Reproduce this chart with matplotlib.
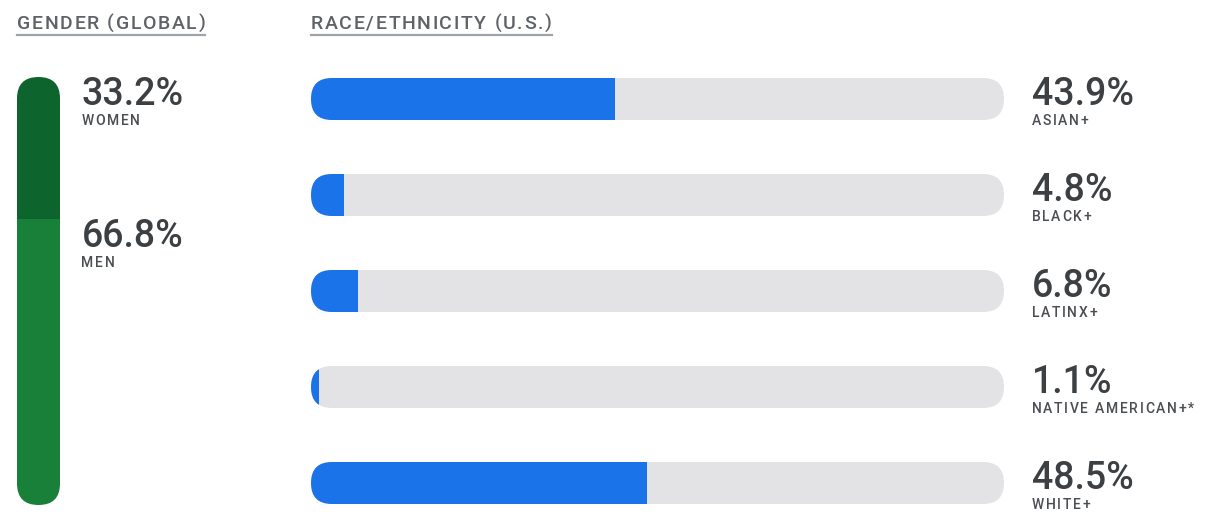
import matplotlib
matplotlib.use("Agg")
import matplotlib.pyplot as plt
from matplotlib.patches import FancyBboxPatch
from matplotlib.lines import Line2D
from matplotlib.transforms import IdentityTransform, offset_copy

plt.rcParams["font.family"] = ["Roboto", "DejaVu Sans"]

# data
gender_labels = ["WOMEN", "MEN"]
gender_values = [33.2, 66.8]
race_labels = ["ASIAN+", "BLACK+", "LATINX+", "NATIVE AMERICAN+*", "WHITE+"]
race_values = [43.9, 4.8, 6.8, 1.1, 48.5]

W, H = 1218, 512
DARK_GREEN, GREEN = "#0d652d", "#188038"
BLUE, TRACK = "#1a73e8", "#e3e3e6"
TXT, SUB, HEAD = "#3c4043", "#4a4d51", "#5f6368"

fig = plt.figure(figsize=(W / 100, H / 100), dpi=100)
fig.patch.set_facecolor("white")


def px_axes(x0, y0, x1, y1):
    ax = fig.add_axes([x0 / W, 1 - y1 / H, (x1 - x0) / W, (y1 - y0) / H])
    ax.set_axis_off()
    return ax


def tracked(x, y, s, size, color, track, transform, weight="normal"):
    """draw text char by char with extra letter spacing (px); returns width"""
    r = fig.canvas.get_renderer()
    dx = 0.0
    for ch in s:
        t = fig.text(x, y, ch, fontsize=size, color=color, weight=weight,
                     va="baseline", ha="left",
                     transform=offset_copy(transform, fig=fig, x=dx, y=0, units="dots"))
        w = size * 100 / 72 * 0.26 if ch == " " else t.get_window_extent(r).width
        dx += w + track
    return dx - track


# ---- headers ----
ident = IdentityTransform()
for x, s in [(17, "GENDER (GLOBAL)"), (311, "RACE/ETHNICITY (U.S.)")]:
    w = tracked(x, H - 29, s, 14, HEAD, 1.6, ident, weight=500)
    fig.add_artist(Line2D([x, x + w], [H - 35, H - 35], lw=1.6, color="#a0a4a8",
                          transform=ident))

# ---- gender bar ----
gx = px_axes(17, 77, 60, 505)
gx.set_xlim(0, 1)
gx.set_ylim(100, 0)
g_asp = (100 / 428) / (1 / 43)
g_track = FancyBboxPatch((0, 0), 1, 100, boxstyle="round,pad=0,rounding_size=0.5",
                         mutation_aspect=g_asp, fc="none", ec="none")
gx.add_patch(g_track)
bottom = 0
for lab, val, col in zip(gender_labels, gender_values, [DARK_GREEN, GREEN]):
    b = gx.bar(0.5, val, bottom=bottom, width=1, color=col, lw=0)
    for p in b:
        p.set_clip_path(g_track)
    gx.text(1.5, bottom + 6.5, f"{val}%", fontsize=27, color=TXT, weight=500,
            va="baseline", ha="left", clip_on=False)
    px, py = gx.transData.transform((1.5, bottom + 11.1))
    tracked(px, py, lab, 10, SUB, 1.7, ident, weight=500)
    bottom += val

# ---- race bars ----
rx = px_axes(311, 51, 1004, 507)
rx.set_xlim(0, 100)
rx.set_ylim(len(race_values) - 0.75, -0.5)
r_asp = (1 / 96) / (100 / 693)
bh = 42 / 96
for i, (lab, val) in enumerate(zip(race_labels, race_values)):
    trk = FancyBboxPatch((0, i - bh / 2), 100, bh,
                         boxstyle=f"round,pad=0,rounding_size={bh / r_asp / 2}",
                         mutation_aspect=r_asp, fc=TRACK, ec="none")
    rx.add_patch(trk)
    b = rx.barh(i, val, height=bh, left=0, color=BLUE, lw=0)
    for p in b:
        p.set_clip_path(trk)
    rx.text(104.0, i + 0.065, f"{val}%", fontsize=27, color=TXT, weight=500,
            va="baseline", ha="left", clip_on=False)
    px, py = rx.transData.transform((104.0, i + 0.27))
    tracked(px, py, lab, 10, SUB, 1.7, ident, weight=500)

fig.savefig("out.png", dpi=100, facecolor="white")
